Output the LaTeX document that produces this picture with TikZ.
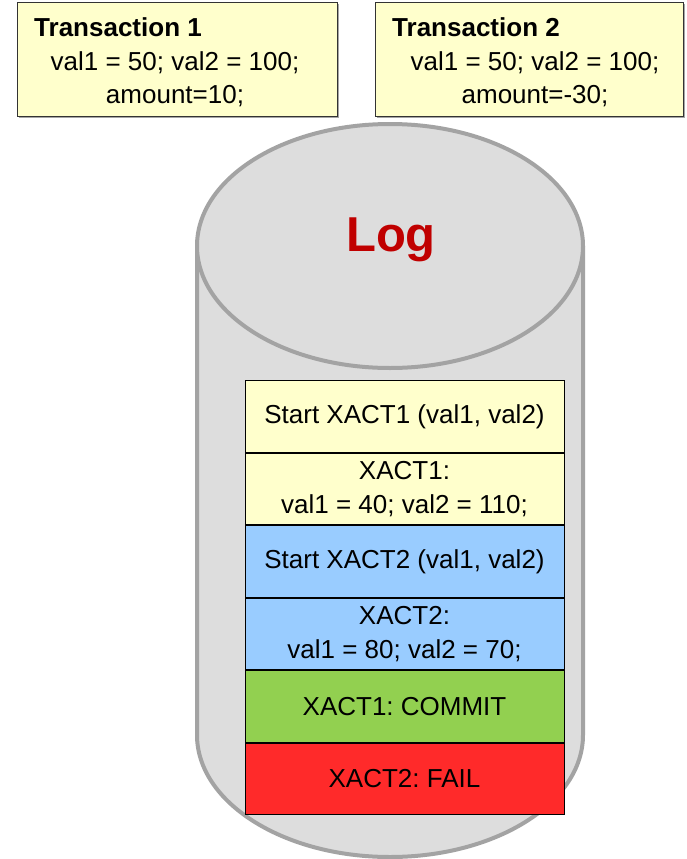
\documentclass[tikz,border=0pt]{standalone}
\usepackage{fontspec}
\setmainfont{Liberation Sans}
\usetikzlibrary{positioning, shadows}
\definecolor{noteyellow}{HTML}{FFFFCC}
\definecolor{entryblue}{HTML}{99CCFF}
\definecolor{entrygreen}{HTML}{92D050}
\definecolor{entryred}{HTML}{FF2A2A}
\definecolor{cylfill}{HTML}{DDDDDD}
\definecolor{cylline}{HTML}{A3A3A3}
\definecolor{logred}{HTML}{C00000}
\frenchspacing

\begin{document}
\begin{tikzpicture}[x=1pt, y=-1pt,
  txbox/.style={draw=black!80, line width=1pt, fill=noteyellow, inner sep=0pt,
    minimum height=113pt, drop shadow={shadow xshift=1.5pt, shadow yshift=-1.5pt, opacity=0.7}},
  txtitle/.style={anchor=base west, inner sep=0pt, font=\bfseries\fontsize{26}{33}\selectfont},
  txbody/.style={align=center, font=\fontsize{26}{33}\selectfont},
  cyl/.style={draw=cylline, line width=4pt, fill=cylfill},
  entry/.style={draw=black, line width=1pt, inner sep=0pt, minimum width=319pt,
    minimum height=71.5pt, align=center, font=\fontsize{26}{34}\selectfont}]
  \useasboundingbox (0,0) rectangle (686,859);
  % transaction notes
  \node[txbox, minimum width=320pt] (tx1) at (177,59.5) {};
  \node[txtitle] (tx1title) at (34,37) {Transaction 1};
  \node[txbody] (tx1body) at (175,79) {val1 = 50; val2 = 100;\\amount=10;};
  \node[txbox, minimum width=308pt] (tx2) at (529,59.5) {};
  \node[txtitle] (tx2title) at (392,37) {Transaction 2};
  \node[txbody] (tx2body) at (535,79) {val1 = 50; val2 = 100;\\amount=-30;};
  % log cylinder
  \draw[cyl] (197,246) -- (197,735) arc[start angle=180, end angle=360, x radius=193pt, y radius=122pt] -- (583,246);
  \draw[cyl] (390,246) ellipse[x radius=193pt, y radius=122pt];
  \node[text=logred, font=\bfseries\fontsize{49}{49}\selectfont] (logtitle) at (391,240) {Log};
  % log entries
  \node[entry, fill=noteyellow] (e1) at (404.5,416.5) {Start XACT1 (val1, val2)};
  \node[entry, fill=noteyellow, below=0pt of e1] (e2) {XACT1:\\val1 = 40; val2 = 110;};
  \node[entry, fill=entryblue, below=0pt of e2] (e3) {Start XACT2 (val1, val2)};
  \node[entry, fill=entryblue, below=0pt of e3] (e4) {XACT2:\\val1 = 80; val2 = 70;};
  \node[entry, fill=entrygreen, below=0pt of e4] (e5) {XACT1: COMMIT};
  \node[entry, fill=entryred, below=0pt of e5] (e6) {XACT2: FAIL};
\end{tikzpicture}
\end{document}
